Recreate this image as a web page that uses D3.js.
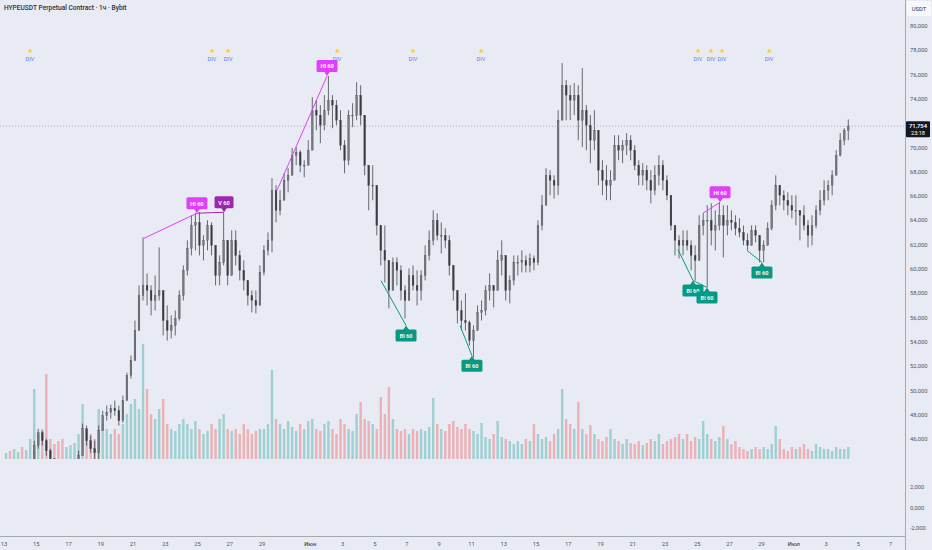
<!DOCTYPE html>
<html><head><meta charset="utf-8">
<script src="https://cdn.jsdelivr.net/npm/d3@7"></script>
<style>html,body{margin:0;padding:0;background:#e9ebf4;}svg{display:block;font-family:Roboto,"Noto Sans",sans-serif;}</style>
</head><body><svg id="c" width="932" height="550"></svg>
<script>
const title = "HYPEUSDT Perpetual Contract · 1ч · Bybit";
const currency = "USDT";
const startTime = "2025-05-13T00:00:00Z";
const endTime = "2025-07-07T00:00:00Z";
const candleHours = 6;
// [high, low, close] in thousands USDT, 6h buckets from startTime
const hlc = [
[43.5,42.8,43.2],[43.4,42.7,43.0],[43.6,42.9,43.3],[43.8,43.0,43.5],
[43.7,42.9,43.1],[43.9,43.0,43.6],[44.06,43.40,43.73],[45.87,44.06,45.46],
[46.85,45.21,46.53],[46.69,45.46,45.87],[46.03,44.63,45.04],[45.21,44.22,44.38],
[44.38,43.40,43.73],[43.89,42.99,43.40],[43.81,42.74,43.23],[44.06,43.07,43.56],
[44.22,43.23,43.81],[44.38,43.40,44.06],[45.04,44.06,44.63],[47.27,44.63,46.85],
[47.11,45.46,45.87],[46.28,44.88,45.21],[45.87,44.22,44.88],[47.11,44.06,46.69],
[48.34,46.85,47.93],[48.76,47.52,48.18],[48.84,47.68,48.51],[49.17,47.93,48.34],
[48.76,47.11,47.52],[49.58,47.35,49.17],[51.47,49.17,51.23],[52.87,50.98,52.46],
[55.76,52.46,54.94],[58.65,54.94,57.82],[62.61,57.41,58.65],[59.64,57.00,58.24],
[58.65,56.18,57.41],[59.47,56.59,57.82],[61.78,57.41,58.24],[58.24,54.53,55.76],
[57.00,54.11,54.94],[56.18,54.28,55.35],[56.59,54.53,55.93],[58.24,55.76,57.82],
[60.30,57.41,59.89],[62.36,59.47,61.70],[64.42,61.12,63.59],[64.59,61.53,63.84],
[64.67,61.12,61.95],[62.77,60.71,62.36],[64.01,61.53,63.59],[63.84,61.12,61.95],
[61.95,58.65,59.47],[61.12,58.65,60.54],[64.67,60.30,62.36],[62.36,58.65,59.47],
[63.18,59.47,62.36],[63.18,60.30,61.12],[61.53,59.06,59.89],[60.71,58.24,59.06],
[58.65,57.00,57.82],[58.24,56.43,57.41],[58.24,56.35,57.00],[60.30,57.00,59.72],
[61.95,59.47,61.53],[63.02,61.12,62.36],[67.47,61.37,66.48],[66.89,63.84,64.83],
[66.48,64.42,65.66],[67.88,65.66,67.30],[68.30,66.31,67.71],[69.95,67.71,69.37],
[70.03,68.54,69.62],[69.78,67.96,68.54],[68.95,67.55,68.54],[70.60,68.54,69.78],
[74.14,69.78,73.07],[73.90,71.42,72.66],[73.49,70.35,71.84],[74.31,71.42,73.07],
[75.88,72.66,73.90],[74.31,71.59,73.49],[73.90,71.84,72.25],[73.07,69.78,70.19],
[70.60,67.88,68.95],[73.07,68.54,72.66],[73.65,71.67,72.66],[75.38,72.25,74.31],
[75.13,71.84,72.66],[72.66,67.71,68.54],[68.54,64.83,66.89],[68.54,65.66,66.89],
[66.07,62.77,63.59],[62.77,60.30,61.53],[63.59,58.89,60.71],[60.71,56.76,58.24],
[60.95,58.24,60.54],[60.95,58.65,59.89],[60.30,57.41,58.24],[58.65,55.93,57.41],
[60.05,57.41,59.47],[60.30,58.24,58.65],[59.89,57.00,58.24],[59.89,57.41,59.47],
[61.95,59.06,61.12],[63.18,60.71,62.36],[64.83,61.95,64.01],[64.59,62.36,62.77],
[63.84,61.28,62.77],[63.35,61.70,62.36],[62.77,59.47,60.30],[60.30,57.41,58.24],
[58.24,55.52,56.59],[57.41,54.94,55.76],[58.00,54.94,55.60],[55.76,53.70,54.11],
[55.35,52.71,54.94],[57.00,54.94,56.43],[57.41,55.76,56.59],[58.65,56.18,58.24],
[59.64,57.41,58.65],[58.65,56.84,58.24],[61.53,58.24,60.71],[62.36,59.47,61.12],
[60.30,57.41,58.24],[59.47,57.17,59.06],[61.12,58.65,60.54],[61.12,59.47,60.54],
[61.53,59.72,60.71],[61.12,59.72,60.30],[61.28,59.72,60.87],[61.12,59.89,60.54],
[64.01,60.30,63.59],[66.07,63.18,65.24],[68.30,65.66,67.71],[68.13,66.07,67.30],
[67.71,65.81,66.89],[73.07,66.07,72.25],[76.95,72.25,75.13],[75.55,72.25,74.31],
[75.13,72.25,73.90],[75.30,72.66,74.31],[75.13,70.60,72.25],[76.53,70.03,73.07],
[73.49,69.78,71.84],[72.66,68.71,70.60],[73.07,69.78,71.42],[71.42,66.89,68.13],
[68.95,66.07,67.30],[68.54,65.66,66.89],[68.13,65.66,67.30],[71.01,67.30,70.19],
[71.01,68.95,69.78],[70.60,68.71,70.19],[71.18,69.37,70.60],[71.01,68.95,69.78],
[70.19,68.13,68.54],[68.95,66.89,67.71],[68.71,66.89,68.13],[68.54,66.48,67.30],
[68.13,65.41,66.48],[68.54,66.07,67.71],[69.37,66.89,68.54],[68.95,66.48,67.30],
[67.71,65.66,66.07],[66.07,63.18,63.59],[63.59,61.12,62.36],[62.77,60.87,61.95],
[63.18,61.12,62.36],[63.18,61.53,61.95],[62.36,59.89,61.12],[61.95,59.06,60.71],
[64.42,61.95,63.59],[64.59,62.77,64.01],[65.24,58.48,64.01],[65.41,61.95,63.18],
[64.83,61.53,63.59],[65.49,63.18,64.42],[65.24,60.95,63.59],[65.24,62.77,64.01],
[64.83,63.18,63.84],[64.42,62.77,63.35],[64.17,62.61,63.02],[63.59,61.95,62.36],
[62.93,61.53,61.95],[63.59,61.95,63.18],[63.59,62.19,62.77],[62.77,60.54,61.53],
[62.36,60.54,61.95],[63.84,61.95,63.35],[65.66,63.18,65.24],[67.71,64.83,66.89],
[66.89,65.24,66.07],[66.48,64.83,65.66],[66.31,64.42,65.24],[66.07,64.17,64.83],
[66.07,63.59,64.83],[64.83,62.36,64.42],[65.24,63.18,63.59],[64.01,61.78,62.77],
[64.42,61.95,63.59],[65.24,63.35,64.83],[66.48,64.42,65.66],[67.30,65.24,66.48],
[67.30,65.66,66.89],[68.13,66.07,67.71],[69.78,67.71,69.37],[71.18,69.26,70.60],
[71.59,70.19,71.42],[72.31,70.60,71.754]
];
const volumes = [
6,8,10,7, 12,9,20,70, 25,30,85,20, 15,18,20,12, 14,16,25,55,
30,25,20,50, 35,30,25,30, 25,35,45,55, 60,50,115,70, 45,40,50,60,
35,30,28,35, 40,35,30,38, 30,25,28,35, 30,40,45,30, 28,30,25,35,
30,25,28,30, 30,35,89,40, 35,30,38,32, 28,35,30,38, 40,30,28,35,
38,30,25,40, 35,30,28,45, 57,40,38,35, 30,62,45,72, 40,30,28,30,
25,30,28,30, 28,32,61,35, 30,28,35,38, 32,30,35,30, 28,25,36,22,
20,25,38,22, 20,18,15,18, 15,20,18,35, 25,20,22,18, 25,30,70,40,
35,30,57,30, 25,34,25,20, 18,22,30,20, 18,15,20,16, 15,18,14,16,
20,18,25,15, 18,20,22,25, 20,25,18,22, 20,38,25,20, 18,22,33,20,
15,18,12,10, 8,10,12,10, 12,10,15,33, 20,10,8,12, 10,12,15,10,
8,15,12,10, 10,8,12,10, 10,12
];
const priceTicks = [46,48,50,52,54,56,58,60,62,64,66,68,70,74,76,78,80];
const lowerTicks = [2000,0,-2000];
const lowerTickLabels = ["2,000","0,000","-2,000"];
const xTicks = [
["2025-05-13","13"],["2025-05-15","15"],["2025-05-17","17"],["2025-05-19","19"],["2025-05-21","21"],
["2025-05-23","23"],["2025-05-25","25"],["2025-05-27","27"],["2025-05-29","29"],["2025-06-01","Июн"],
["2025-06-03","3"],["2025-06-05","5"],["2025-06-07","7"],["2025-06-09","9"],["2025-06-11","11"],
["2025-06-13","13"],["2025-06-15","15"],["2025-06-17","17"],["2025-06-19","19"],["2025-06-21","21"],
["2025-06-23","23"],["2025-06-25","25"],["2025-06-27","27"],["2025-06-29","29"],["2025-07-01","Июл"],
["2025-07-03","3"],["2025-07-05","5"],["2025-07-07","7"]
];
const lastPrice = 71.754;
const lastPriceText = "71,754";
const barTimer = "23:18";
// divergence segments: [dayFrom, priceFrom, dayTo, priceTo, kind]
const divLines = [
[8.68,62.52,11.97,64.59,"bear"],
[11.97,64.59,13.65,64.67,"vbear"],
[16.94,66.48,20.04,75.88,"bear"],
[23.39,59.04,24.94,55.35,"bull"],
[28.29,55.35,29.03,52.86,"bull"],
[41.81,61.61,42.74,59.06,"bull"],
[42.74,59.06,43.61,58.48,"bull"],
[43.36,64.59,44.42,65.49,"bear"],
[46.09,61.53,47.02,60.54,"bull"]
];
// labels: [day, price, text, kind]
const divLabels = [
[11.97,64.59,"Hl 60","bear"],
[13.65,64.67,"V 60","vbear"],
[20.04,75.88,"Hl 60","bear"],
[24.94,55.35,"Bl 60","bull"],
[29.03,52.86,"Bl 60","bull"],
[42.74,59.06,"Bl 60","bull"],
[43.61,58.48,"Bl 60","bull"],
[44.42,65.49,"Hl 60","bear"],
[47.02,60.54,"Bl 60","bull"]
];
const divMarkerDays = [1.61,12.90,13.90,20.66,25.37,29.59,43.05,43.86,44.54,47.46];

const kindColor = {bear:"#e040fb", vbear:"#9c27b0", bull:"#089981"};
const svg = d3.select("#c");
const paneRight = 905, paneBottom = 459, axisY = 536;
const t0 = new Date(startTime);
const H = 3600e3, DAY = 24*H;
const x = d3.scaleUtc().domain([new Date(startTime), new Date(endTime)]).range([4, 890.6]);
const y = d3.scaleLinear().domain([44, 80]).range([463.4, 26]);
const yLow = d3.scaleLinear().domain([-2000, 2000]).range([528, 487]);
const yVol = d3.scaleLinear().domain([0, 120]).range([paneBottom, paneBottom - 120]);
const dayT = d => new Date(+t0 + d*DAY);

svg.append("rect").attr("width",932).attr("height",550).attr("fill","#e9ebf4");
const defs = svg.append("defs");
defs.append("clipPath").attr("id","pane").append("rect").attr("x",0).attr("y",0).attr("width",paneRight).attr("height",paneBottom);

const candles = hlc.map((r,i)=>{
  const o = i ? hlc[i-1][2] : r[1];
  return {t:new Date(+t0 + (i+0.5)*candleHours*H), o, c:r[2], h:Math.max(r[0],o,r[2]), l:Math.min(r[1],o,r[2]), v:volumes[i]};
});
const step = x(new Date(+t0 + candleHours*H)) - x(t0);

const g = svg.append("g").attr("clip-path","url(#pane)");
// volume
g.selectAll("rect.vol").data(candles).join("rect").attr("class","vol")
  .attr("x",d=>x(d.t)-step*0.3).attr("width",step*0.6)
  .attr("y",d=>yVol(d.v)).attr("height",d=>paneBottom-yVol(d.v))
  .attr("fill",d=>d.c>=d.o?"#26a69a":"#ef5350").attr("opacity",0.38);
// candles
g.selectAll("line.wick").data(candles).join("line").attr("class","wick")
  .attr("x1",d=>x(d.t)).attr("x2",d=>x(d.t)).attr("y1",d=>y(d.h)).attr("y2",d=>y(d.l))
  .attr("stroke","#44464d").attr("stroke-width",0.8);
g.selectAll("rect.body").data(candles).join("rect").attr("class","body")
  .attr("x",d=>x(d.t)-step*0.22).attr("width",step*0.44)
  .attr("y",d=>y(Math.max(d.o,d.c))).attr("height",d=>Math.max(0.8,Math.abs(y(d.o)-y(d.c))))
  .attr("fill",d=>d.c>=d.o?"#76787f":"#3a3b41").attr("stroke","#46474d").attr("stroke-width",0.3);

// last price dotted line
svg.append("line").attr("x1",0).attr("x2",paneRight).attr("y1",y(lastPrice)).attr("y2",y(lastPrice))
  .attr("stroke","#9a9da8").attr("stroke-width",0.8).attr("stroke-dasharray","1,2");

// divergence lines
svg.selectAll("line.div").data(divLines).join("line")
  .attr("x1",d=>x(dayT(d[0]))).attr("y1",d=>y(d[1])).attr("x2",d=>x(dayT(d[2]))).attr("y2",d=>y(d[3]))
  .attr("stroke",d=>kindColor[d[4]]).attr("stroke-width",1);

// labels
const lg = svg.selectAll("g.lab").data(divLabels).join("g").attr("class","lab")
  .attr("transform",d=>`translate(${x(dayT(d[0]))},${y(d[1])})`);
lg.each(function(d){
  const s = d3.select(this), up = d[3] !== "bull", col = kindColor[d[3]];
  const w = d[2].length > 4 ? 21 : 19, h = 12;
  const by = up ? -4 - h : 4;
  s.append("path").attr("d", up ? "M-3,-4.5L3,-4.5L0,0Z" : "M-3,4.5L3,4.5L0,0Z").attr("fill",col);
  s.append("rect").attr("x",-w/2).attr("y",by).attr("width",w).attr("height",h).attr("rx",1.5).attr("fill",col);
  s.append("text").attr("x",0).attr("y",by+8.3).attr("text-anchor","middle")
    .attr("font-size",5.6).attr("font-weight",600).attr("fill","#fff").text(d[2]);
});

// DIV markers
const star = d3.symbol().type(d3.symbolStar).size(9);
const mg = svg.selectAll("g.dm").data(divMarkerDays).join("g").attr("class","dm")
  .attr("transform",d=>`translate(${x(dayT(d))},0)`);
mg.append("path").attr("d",star).attr("transform","translate(0,51)").attr("fill","#f7c631");
mg.append("text").attr("y",60.5).attr("text-anchor","middle").attr("font-size",5.6).attr("fill","#5b78e8").text("DIV");

// title
svg.append("text").attr("x",4).attr("y",10).attr("font-size",6.6).attr("font-weight",500).attr("fill","#2a2e39").text(title);

// right axis
svg.append("line").attr("x1",paneRight+0.5).attr("x2",paneRight+0.5).attr("y1",0).attr("y2",550).attr("stroke","#9598a1").attr("stroke-width",0.8);
svg.append("line").attr("x1",0).attr("x2",paneRight).attr("y1",axisY+0.5).attr("y2",axisY+0.5).attr("stroke","#9598a1").attr("stroke-width",0.8);
const fmt = d3.format(",");
svg.selectAll("text.py").data(priceTicks).join("text").attr("class","py")
  .attr("x",910).attr("y",d=>y(d)+2).attr("font-size",5.8).attr("fill","#50535e").text(d=>fmt(d*1000));
svg.selectAll("text.ly").data(lowerTicks).join("text").attr("class","ly")
  .attr("x",910).attr("y",d=>yLow(d)+2).attr("font-size",5.8).attr("fill","#50535e").text((d,i)=>lowerTickLabels[i]);

// x axis
svg.selectAll("text.xt").data(xTicks).join("text").attr("class","xt")
  .attr("x",d=>x(new Date(d[0]+"T00:00:00Z"))).attr("y",545.5).attr("text-anchor","middle")
  .attr("font-size",5.8).attr("font-weight",d=>isNaN(+d[1])?600:400).attr("fill","#50535e").text(d=>d[1]);

// currency box
svg.append("rect").attr("x",907).attr("y",1).attr("width",24).attr("height",15).attr("rx",1.5).attr("fill","#f7f8fb");
svg.append("text").attr("x",919).attr("y",11).attr("text-anchor","middle").attr("font-size",5.8).attr("fill","#2a2e39").text(currency);

// last price tag
const ty = y(lastPrice);
svg.append("rect").attr("x",906).attr("y",ty-5).attr("width",24).attr("height",16).attr("rx",1).attr("fill","#131722");
svg.append("text").attr("x",918).attr("y",ty+2).attr("text-anchor","middle").attr("font-size",5.8).attr("font-weight",600).attr("fill","#fff").text(lastPriceText);
svg.append("text").attr("x",918).attr("y",ty+9).attr("text-anchor","middle").attr("font-size",5.6).attr("fill","#fff").text(barTimer);
</script></body></html>
